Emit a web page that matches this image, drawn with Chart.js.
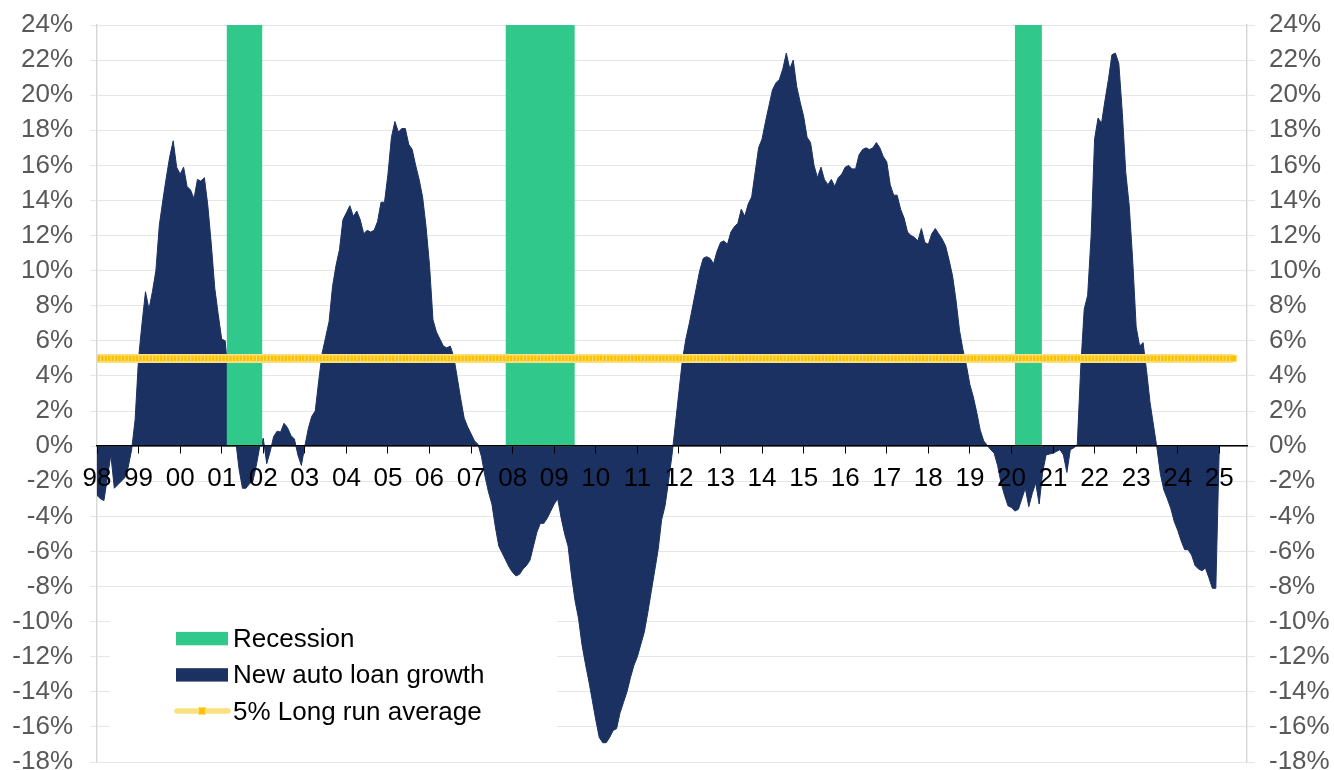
<!DOCTYPE html>
<html>
<head>
<meta charset="utf-8">
<title>New auto loan growth</title>
<script src="https://cdn.jsdelivr.net/npm/chart.js@4.4.1/dist/chart.umd.min.js"></script>
<style>
  html, body { margin: 0; padding: 0; background: #fff; overflow: hidden; }
  #wrap { width: 1334px; height: 770px; }
</style>
</head>
<body>
<div id="wrap"><canvas id="loanChart" width="1334" height="770"></canvas></div>
<script>
// New auto loan growth, % y/y, monthly from Jan 1998
const loanGrowth = [
  -2.8, -3.0, -3.1, -1.8, -0.5, -2.4, -2.2, -2.0, -1.8, -1.2, -0.2, 1.5,      // 1998
  5.0, 7.0, 8.8, 7.8, 8.8, 10.0, 12.6, 14.0, 15.3, 16.5, 17.4, 15.9,          // 1999
  15.5, 15.9, 14.8, 14.6, 14.1, 15.2, 15.1, 15.3, 13.7, 11.5, 9.0, 7.5,       // 2000
  6.1, 6.0, 3.9, 2.1, 0.4, -1.3, -2.4, -2.4, -2.15, -2.0, -1.1, 0.0,          // 2001
  0.45, -1.0, -0.3, 0.55, 0.85, 0.8, 1.3, 1.05, 0.6, 0.4, -0.5, -1.1,         // 2002
  0.0, 1.0, 1.7, 2.0, 3.7, 5.3, 6.2, 7.1, 9.1, 10.3, 11.2, 12.9,              // 2003
  13.3, 13.7, 13.1, 13.4, 12.9, 12.1, 12.3, 12.2, 12.3, 12.8, 13.9, 13.9,     // 2004
  15.5, 17.6, 18.5, 17.9, 18.1, 18.1, 17.2, 16.9, 16.0, 15.2, 14.2, 12.5,     // 2005
  10.3, 7.2, 6.5, 6.1, 5.7, 5.6, 5.7, 5.1, 3.9, 2.7, 1.6, 1.1,                // 2006
  0.7, 0.3, 0.1, -0.6, -1.7, -2.6, -3.3, -4.6, -5.7, -6.1, -6.5, -6.9,        // 2007
  -7.2, -7.4, -7.3, -7.0, -6.8, -6.5, -5.7, -4.9, -4.4, -4.4, -4.1, -3.7,     // 2008
  -3.3, -3.0, -4.1, -5.0, -5.7, -7.4, -8.8, -9.8, -11.3, -12.4, -13.4, -14.5, // 2009
  -15.6, -16.6, -16.9, -16.9, -16.6, -16.2, -16.1, -15.2, -14.6, -14.0, -13.2, -12.5, // 2010
  -12.0, -11.3, -10.6, -9.5, -8.3, -7.1, -5.9, -4.2, -3.4, -2.0, -0.5, 1.3,   // 2011
  3.1, 4.9, 6.1, 7.0, 8.0, 9.0, 10.0, 10.7, 10.8, 10.7, 10.4, 11.1,           // 2012
  11.6, 11.7, 11.5, 12.2, 12.5, 12.7, 13.5, 13.1, 13.8, 14.2, 15.6, 17.0,     // 2013
  17.5, 18.5, 19.4, 20.3, 20.7, 20.9, 21.5, 22.4, 21.5, 22.0, 20.5, 19.6,     // 2014
  18.8, 17.6, 17.3, 16.0, 15.3, 15.9, 15.2, 14.9, 15.2, 14.8, 15.3, 15.5,     // 2015
  15.9, 16.0, 15.8, 15.8, 16.6, 16.9, 17.0, 16.9, 17.0, 17.3, 17.0, 16.5,     // 2016
  16.2, 14.9, 14.3, 14.3, 13.5, 13.0, 12.2, 12.0, 11.9, 11.7, 12.4, 11.6,     // 2017
  11.5, 12.1, 12.4, 12.1, 11.8, 11.4, 10.6, 9.7, 8.3, 6.6, 5.5, 4.6,          // 2018
  3.5, 2.8, 1.9, 0.9, 0.3, 0.05, -0.2, -0.4, -1.1, -2.1, -2.8, -3.4,          // 2019
  -3.5, -3.7, -3.6, -3.0, -2.4, -3.45, -2.7, -2.1, -3.3, -1.5, -0.5, -0.45,   // 2020
  -0.4, -0.3, -0.2, -0.5, -1.5, -0.2, -0.1, 0.1, 4.5, 7.8, 8.6, 12.0,         // 2021
  17.5, 18.7, 18.4, 19.7, 20.9, 22.3, 22.4, 21.8, 19.0, 15.6, 13.7, 10.6,     // 2022
  6.8, 5.7, 5.9, 4.3, 2.5, 1.2, -0.1, -1.6, -2.5, -3.0, -3.55, -4.3,          // 2023
  -4.8, -5.4, -5.9, -5.9, -6.2, -6.8, -7.0, -7.1, -6.95, -7.5, -8.1, -8.1,    // 2024
  0.0                                                                         // 2025
];

// x-axis year labels, one per January
const yearLabels = ['98', '99', '00', '01', '02', '03', '04', '05', '06', '07',
  '08', '09', '10', '11', '12', '13', '14', '15', '16', '17', '18', '19', '20',
  '21', '22', '23', '24', '25'];

// recession shading, in months since Jan 1998
const recessionStart = [37.4, 118.0, 265.0];
const recessionEnd = [47.7, 137.9, 272.8];
const recessionTop = 24;

const longRunAverage = 5;
const averageMonths = 329;   // Jan 1998 .. May 2025
const axisMonths = 332;

const yMin = -18;
const yMax = 24;
const yStep = 2;

const FONT = '"Liberation Sans", Arial, sans-serif';
const GREEN = '#30c98b';
const NAVY = '#1b3162';
const GOLD = '#ffc000';
const PALE_GOLD = '#fae17f';

Chart.defaults.font.family = FONT;

// --- build the point lists ---
const growthPoints = loanGrowth.map((v, i) => ({ x: i, y: v }));
const averagePoints = Array.from({ length: averageMonths }, (_, i) => ({ x: i, y: longRunAverage }));
const recessionPoints = [];
recessionStart.forEach((s, i) => {
    const e = recessionEnd[i];
    recessionPoints.push({ x: s, y: 0 }, { x: s, y: recessionTop }, { x: e, y: recessionTop }, { x: e, y: 0 });
});

// legend box in the lower left corner of the plot
const cornerLegend = {
    id: 'cornerLegend',
    beforeDatasetsDraw(chart) {
        const ctx = chart.ctx;
        ctx.save();
        ctx.fillStyle = '#ffffff';
        ctx.fillRect(110, 596, 447, 146);
        ctx.restore();
    },
    afterDatasetsDraw(chart) {
        const ctx = chart.ctx;
        const sets = chart.data.datasets;
        const baselines = [646.7, 683, 720];
        ctx.save();
        ctx.font = '26px ' + FONT;
        ctx.textBaseline = 'alphabetic';
        sets.forEach((ds, i) => {
            const b = baselines[i];
            if (ds.pointStyle === 'rect') {
                ctx.strokeStyle = PALE_GOLD;
                ctx.lineWidth = 5.5;
                ctx.lineCap = 'round';
                ctx.beginPath();
                ctx.moveTo(177, b - 9);
                ctx.lineTo(228, b - 9);
                ctx.stroke();
                ctx.fillStyle = GOLD;
                ctx.fillRect(198.5, b - 12.5, 7, 7);
                ctx.strokeStyle = PALE_GOLD;
                ctx.lineWidth = 1;
                ctx.strokeRect(198.5, b - 12.5, 7, 7);
            } else {
                ctx.fillStyle = ds.backgroundColor;
                ctx.fillRect(176, b - 14.8, 52, 13.4);
            }
            ctx.fillStyle = '#000000';
            ctx.fillText(ds.label, 233, b);
        });
        ctx.restore();
    }
};

const percentTicks = (pad) => ({
    stepSize: yStep,
    color: '#595959',
    font: { size: 26 },
    padding: pad,
    callback: (v) => v + '%'
});

// fixed axis widths; labels may run past the top/bottom edge
const fixAxis = (width) => (scale) => {
    scale.width = width;
    scale.paddingTop = 0;
    scale.paddingBottom = 0;
};

new Chart(document.getElementById('loanChart'), {
    type: 'line',
    data: {
        datasets: [
            {
                label: 'Recession',
                data: recessionPoints,
                order: 1,
                fill: 'origin',
                backgroundColor: GREEN,
                borderColor: 'rgba(0,0,0,0)',
                borderWidth: 0,
                pointRadius: 0,
                tension: 0
            },
            {
                label: 'New auto loan growth',
                data: growthPoints,
                order: 2,
                fill: 'origin',
                backgroundColor: NAVY,
                borderColor: NAVY,
                borderWidth: 1,
                borderJoinStyle: 'bevel',
                pointRadius: 0,
                tension: 0
            },
            {
                label: '5% Long run average',
                data: averagePoints,
                order: 0,
                fill: false,
                borderColor: PALE_GOLD,
                borderWidth: 9,
                pointStyle: 'rect',
                pointRadius: 4.7,
                pointBackgroundColor: GOLD,
                pointBorderColor: PALE_GOLD,
                pointBorderWidth: 1
            }
        ]
    },
    options: {
        responsive: false,
        animation: false,
        events: [],
        layout: { padding: { top: 25, bottom: 8, left: 0, right: 0 } },
        plugins: {
            legend: { display: false },
            tooltip: { enabled: false }
        },
        scales: {
            x: {
                type: 'linear',
                position: { y: 0 },
                min: 0,
                max: axisMonths,
                afterBuildTicks: (scale) => {
                    scale.ticks = yearLabels.map((_, i) => ({ value: i * 12 }));
                },
                ticks: {
                    z: 1,
                    autoSkip: false,
                    maxRotation: 0,
                    includeBounds: false,
                    color: '#000000',
                    font: { size: 26 },
                    padding: 10,
                    callback: (v) => yearLabels[Math.round(v / 12)]
                },
                grid: { z: 1, drawOnChartArea: false, tickLength: 7, color: '#000000', lineWidth: 1 },
                border: { z: 1, display: true, color: '#000000', width: 1.5 }
            },
            y: {
                position: 'left',
                min: yMin,
                max: yMax,
                ticks: percentTicks(17),
                grid: { color: '#e6e6e6', lineWidth: 1, tickLength: 7 },
                border: { color: '#d9d9d9', width: 1.5 },
                afterFit: fixAxis(97)
            },
            y2: {
                position: 'right',
                min: yMin,
                max: yMax,
                ticks: percentTicks(14),
                grid: { drawOnChartArea: false, color: '#e6e6e6', lineWidth: 1, tickLength: 8 },
                border: { color: '#d9d9d9', width: 1.5 },
                afterFit: fixAxis(87)
            }
        }
    },
    plugins: [cornerLegend]
});
</script>
</body>
</html>
